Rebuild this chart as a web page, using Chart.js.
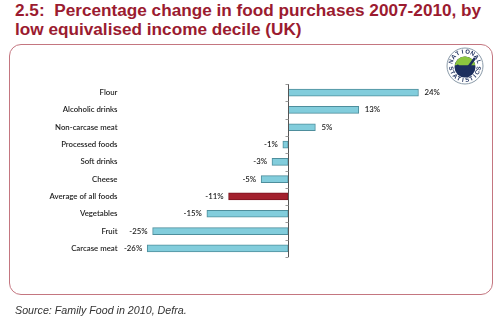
<!DOCTYPE html>
<html><head><meta charset="utf-8">
<script src="https://cdn.jsdelivr.net/npm/chart.js@4/dist/chart.umd.min.js"></script>
<style>
html,body{margin:0;padding:0;background:#fff;}
#wrap{position:relative;width:500px;height:321px;overflow:hidden;}
#title{position:absolute;left:15px;top:1px;font:bold 17.2px "Liberation Sans",Arial,sans-serif;color:#9b1b30;line-height:18.5px;white-space:nowrap;}
#frame{position:absolute;left:9px;top:44px;width:482px;height:249px;border:1.5px solid #c47680;border-radius:12px;}
#source{position:absolute;left:15px;top:304px;font:italic 10.7px "Liberation Sans",Arial,sans-serif;color:#333;white-space:nowrap;}
canvas{position:absolute;left:0;top:0;}
</style></head>
<body><div id="wrap">
<div id="title">2.5:&nbsp; Percentage change in food purchases 2007-2010, by<br>low equivalised income decile (UK)</div>
<div id="frame"></div>
<canvas id="c" width="500" height="321"></canvas>
<div id="source">Source: Family Food in 2010, Defra.</div>
</div>
<script>
const categories = ["Flour","Alcoholic drinks","Non-carcase meat","Processed foods","Soft drinks","Cheese","Average of all foods","Vegetables","Fruit","Carcase meat"];
const values = [24,13,5,-1,-3,-5,-11,-15,-25,-26];
const valueLabels = ["24%","13%","5%","-1%","-3%","-5%","-11%","-15%","-25%","-26%"];
const highlight = "Average of all foods";

const fills = categories.map(c => c === highlight ? "#a3212e" : "#82cddc");
const borders = categories.map(c => c === highlight ? "#7a1520" : "#4e8e9c");

const extras = {
  id: "extras",
  afterDatasetsDraw(chart) {
    const ctx = chart.ctx;
    const xs = chart.scales.x;
    const x0 = Math.round(xs.getPixelForValue(0)) + 0.5;
    ctx.save();
    ctx.strokeStyle = "#555";
    ctx.lineWidth = 1;
    ctx.beginPath();
    ctx.moveTo(x0, chart.chartArea.top);
    ctx.lineTo(x0, chart.chartArea.bottom);
    ctx.stroke();
    ctx.strokeStyle = "#999";
    const n = categories.length;
    const step = (chart.chartArea.bottom - chart.chartArea.top) / n;
    for (let i = 0; i <= n; i++) {
      const y = Math.round(chart.chartArea.top + i * step) + 0.5;
      ctx.beginPath();
      ctx.moveTo(x0 - 3, y);
      ctx.lineTo(x0, y);
      ctx.stroke();
    }
    ctx.font = "600 7.8px Lato, 'Open Sans', sans-serif";
    ctx.fillStyle = "#222";
    ctx.textBaseline = "middle";
    const meta = chart.getDatasetMeta(0);
    meta.data.forEach((bar, i) => {
      const v = values[i];
      if (v >= 0) {
        ctx.textAlign = "left";
        ctx.fillText(valueLabels[i], bar.x + 6, bar.y);
      } else {
        ctx.textAlign = "right";
        ctx.fillText(valueLabels[i], bar.x - 5, bar.y);
      }
    });
    // National Statistics logo
    const cx = 465, cy = 66;
    ctx.beginPath(); ctx.arc(cx, cy, 18, 0, Math.PI * 2);
    ctx.fillStyle = "#fff"; ctx.fill();
    ctx.strokeStyle = "#8a9aa8"; ctx.lineWidth = 1; ctx.stroke();
    ctx.beginPath(); ctx.arc(cx, cy + 1, 10.5, 0, Math.PI * 2);
    ctx.fillStyle = "#1d2f5e"; ctx.fill();
    ctx.beginPath(); ctx.arc(cx, cy + 1, 10.5, Math.PI * 1.05, Math.PI * 1.95);
    ctx.closePath(); ctx.fillStyle = "#8cc63f"; ctx.fill();
    ctx.beginPath();
    ctx.moveTo(cx - 8, cy - 1); ctx.lineTo(cx - 1, cy + 7); ctx.lineTo(cx + 10, cy - 8);
    ctx.strokeStyle = "#1d2f5e"; ctx.lineWidth = 2.5; ctx.stroke();
    ctx.fillStyle = "#1d2f5e";
    ctx.font = "bold 6px 'Liberation Sans', sans-serif";
    ctx.textAlign = "center"; ctx.textBaseline = "middle";
    const top = "NATIONAL", bot = "STATISTICS";
    for (let i = 0; i < top.length; i++) {
      const a = Math.PI * 1.5 + (i - (top.length - 1) / 2) * 0.36;
      ctx.save(); ctx.translate(cx + Math.cos(a) * 14.3, cy + Math.sin(a) * 14.3);
      ctx.rotate(a + Math.PI / 2); ctx.fillText(top[i], 0, 0); ctx.restore();
    }
    for (let i = 0; i < bot.length; i++) {
      const a = Math.PI * 0.5 - (i - (bot.length - 1) / 2) * 0.31;
      ctx.save(); ctx.translate(cx + Math.cos(a) * 14.3, cy + Math.sin(a) * 14.3);
      ctx.rotate(a - Math.PI / 2); ctx.fillText(bot[i], 0, 0); ctx.restore();
    }
    ctx.restore();
  }
};

new Chart(document.getElementById("c"), {
  type: "bar",
  data: {
    labels: categories,
    datasets: [{
      data: values,
      backgroundColor: fills,
      borderColor: borders,
      borderWidth: 1,
      barThickness: 7,
      borderSkipped: false
    }]
  },
  options: {
    indexAxis: "y",
    responsive: false,
    animation: false,
    devicePixelRatio: 1,
    layout: { padding: { left: 10, right: 49, top: 84, bottom: 64 } },
    plugins: { legend: { display: false }, tooltip: { enabled: false } },
    scales: {
      x: { display: false, min: -30, max: 30 },
      y: {
        grid: { display: false, drawTicks: false },
        border: { display: false },
        afterFit(scale) { scale.width = 115.5; },
        ticks: {
          padding: 8,
          color: "#222",
          font: { family: "Lato, 'Open Sans', sans-serif", size: 7.8, weight: "600" }
        }
      }
    }
  },
  plugins: [extras]
});
</script>
</body></html>
